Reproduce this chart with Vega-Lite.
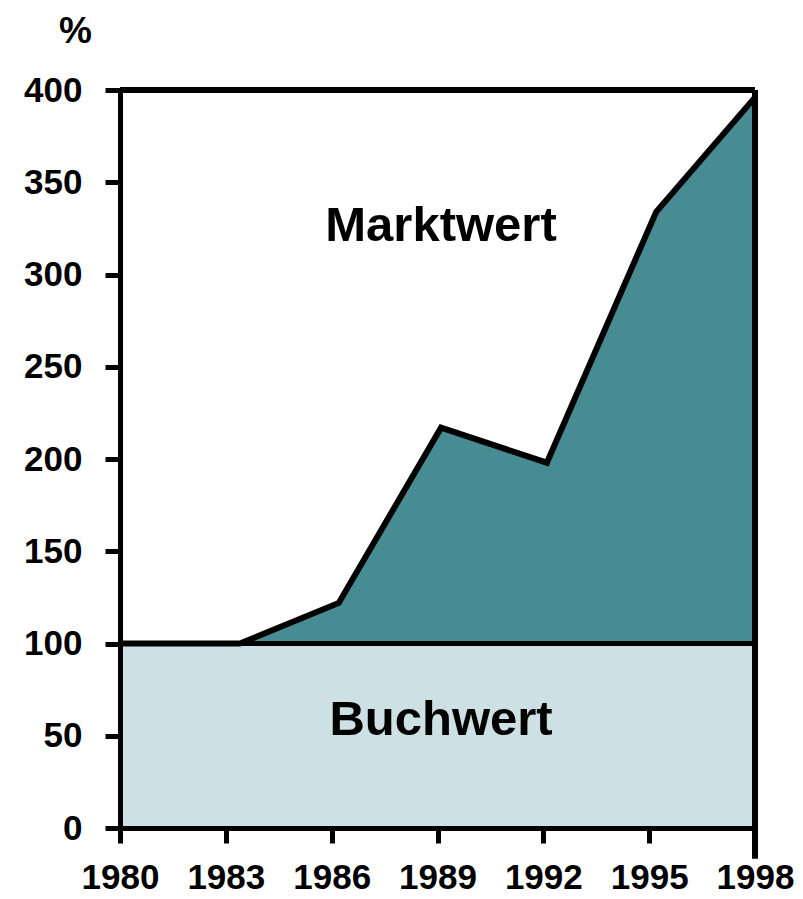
{
  "$schema": "https://vega.github.io/schema/vega-lite/v6.json",
  "width": 635,
  "height": 738,
  "autosize": {"type": "none"},
  "padding": {"left": 120, "top": 90, "right": 48, "bottom": 71},
  "background": "white",
  "view": {"stroke": null},
  "config": {"font": "Liberation Sans"},
  "datasets": {
    "markt": [
      {"year": 1980, "value": 100},
      {"year": 1983.4, "value": 100},
      {"year": 1986.2, "value": 122},
      {"year": 1989.1, "value": 217},
      {"year": 1992.1, "value": 198},
      {"year": 1995.2, "value": 334},
      {"year": 1998, "value": 396}
    ],
    "buch": [
      {"year": 1980, "value": 100},
      {"year": 1998, "value": 100}
    ],
    "labels": [
      {"year": 1989.1, "value": 318, "label": "Marktwert"},
      {"year": 1989.1, "value": 50.5, "label": "Buchwert"}
    ]
  },
  "encoding": {
    "x": {
      "field": "year", "type": "quantitative",
      "scale": {"domain": [1980, 1998], "nice": false, "zero": false},
      "axis": {
        "values": [1980, 1983, 1986, 1989, 1992, 1995, 1998],
        "format": "d", "title": null, "grid": false,
        "domainColor": "black", "domainWidth": 5,
        "tickColor": "black", "tickWidth": 5, "tickSize": 15,
        "labelFont": "Liberation Sans", "labelFontWeight": "bold", "labelFontSize": 35,
        "labelColor": "black", "labelPadding": 17, "labelFlush": false, "labelOverlap": false,
        "zindex": 1
      }
    },
    "y": {
      "field": "value", "type": "quantitative",
      "scale": {"domain": [0, 400], "nice": false},
      "axis": {
        "values": [0, 50, 100, 150, 200, 250, 300, 350, 400],
        "title": "%", "titleAngle": 0, "titleX": -45, "titleY": -48,
        "titleAlign": "center", "titleBaseline": "alphabetic",
        "titleFont": "Liberation Sans", "titleFontWeight": "bold", "titleFontSize": 37, "titleColor": "black",
        "grid": false,
        "domainColor": "black", "domainWidth": 5,
        "tickColor": "black", "tickWidth": 5, "tickSize": 15,
        "labelFont": "Liberation Sans", "labelFontWeight": "bold", "labelFontSize": 35,
        "labelColor": "black", "labelPadding": 23, "labelFlush": false, "labelOverlap": false,
        "zindex": 1
      }
    }
  },
  "layer": [
    {
      "data": {"name": "buch"},
      "mark": {"type": "area", "color": "#cde0e3"},
      "encoding": {"y2": {"datum": 0}}
    },
    {
      "data": {"name": "markt"},
      "mark": {"type": "area", "color": "#488c93"},
      "encoding": {"y2": {"datum": 100}}
    },
    {
      "data": {"name": "markt"},
      "mark": {"type": "line", "color": "black", "strokeWidth": 6, "strokeJoin": "miter"},
      "encoding": {}
    },
    {
      "data": {"name": "buch"},
      "mark": {"type": "line", "color": "black", "strokeWidth": 5},
      "encoding": {}
    },
    {
      "data": {"name": "buch"},
      "mark": {"type": "rule", "color": "black", "strokeWidth": 6},
      "encoding": {
        "x": {"datum": 1980}, "x2": {"datum": 1998},
        "y": {"datum": 400}
      }
    },
    {
      "data": {"name": "buch"},
      "mark": {"type": "rule", "color": "black", "strokeWidth": 6},
      "encoding": {
        "x": {"datum": 1998},
        "y": {"datum": 400}, "y2": {"datum": -16.5}
      }
    },
    {
      "data": {"name": "labels"},
      "mark": {"type": "text", "font": "Liberation Sans", "fontWeight": "bold", "fontSize": 49, "color": "black", "align": "center", "baseline": "alphabetic"},
      "encoding": {"text": {"field": "label"}}
    }
  ]
}
